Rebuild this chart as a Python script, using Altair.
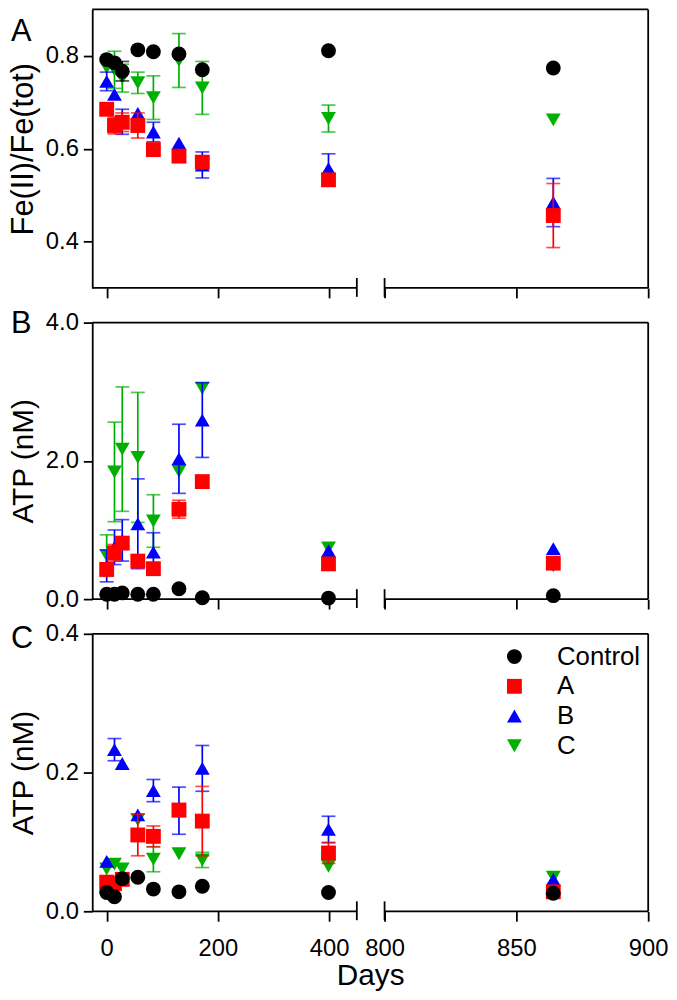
import altair as alt
import pandas as pd

# ---------------- data ----------------
DAYS = [0, 14, 28, 56, 84, 130, 172, 399, 864]
SERIES = ["Control", "A", "B", "C"]
COLORS = ["#000000", "#ff0000", "#0000ff", "#00b000"]
SHAPES = ["circle", "square", "triangle-up", "triangle-down"]
X_TICKS = [0, 200, 400, 800, 850, 900]

# Panel A: Fe(II)/Fe(tot)
FE_CONTROL = [0.792, 0.785, 0.767, 0.813, 0.809, 0.804, 0.770, 0.811, 0.774]
FE_CONTROL_ERR = [None, None, 0.021, None, None, None, None, None, None]
FE_A = [0.685, 0.650, 0.657, 0.650, 0.598, 0.584, 0.571, 0.533, 0.456]
FE_A_ERR = [None, 0.018, 0.020, 0.027, None, None, None, None, 0.069]
FE_B = [0.745, 0.717, 0.658, 0.676, 0.636, 0.612, 0.565, 0.557, 0.484]
FE_B_ERR = [0.020, None, 0.027, None, 0.021, None, 0.028, 0.032, 0.052]
FE_C = [0.775, 0.770, 0.752, 0.742, 0.710, 0.790, 0.731, 0.665, 0.662]
FE_C_ERR = [None, 0.040, 0.030, 0.023, 0.047, 0.058, 0.057, 0.029, None]

# Panel B: ATP (nM)
ATP1_CONTROL = [0.07, 0.07, 0.09, 0.07, 0.07, 0.15, 0.02, 0.015, 0.05]
ATP1_CONTROL_ERR = [None] * 9
ATP1_A = [0.43, 0.67, 0.81, 0.55, 0.44, 1.30, 1.70, 0.51, 0.52]
ATP1_A_ERR = [None, 0.12, None, None, None, 0.13, None, None, None]
ATP1_B = [0.48, 0.75, 0.85, 1.09, 0.68, 2.03, 2.59, 0.70, 0.73]
ATP1_B_ERR = [0.23, 0.25, 0.30, 0.65, 0.28, 0.50, 0.54, None, None]
ATP1_C = [0.63, 1.84, 2.17, 2.05, 1.13, 1.85, 3.05, 0.74, 0.48]
ATP1_C_ERR = [0.30, 0.72, 0.90, 0.94, 0.38, None, None, None, None]

# Panel C: ATP (nM)
ATP2_CONTROL = [0.027, 0.021, 0.047, 0.049, 0.032, 0.028, 0.036, 0.027, 0.026]
ATP2_CONTROL_ERR = [None] * 9
ATP2_A = [0.042, 0.040, 0.046, 0.110, 0.108, 0.146, 0.130, 0.084, 0.028]
ATP2_A_ERR = [None, None, None, 0.030, 0.015, None, 0.050, 0.015, None]
ATP2_B = [0.072, 0.233, 0.213, 0.139, 0.174, 0.145, 0.206, 0.118, 0.046]
ATP2_B_ERR = [None, 0.016, None, None, 0.016, 0.034, 0.033, 0.019, None]
ATP2_C = [0.061, 0.068, 0.061, 0.132, 0.075, 0.083, 0.074, 0.065, 0.049]
ATP2_C_ERR = [None, None, None, None, 0.018, None, 0.011, None, None]

# ---------------- layout ----------------
W = 561
WL = 267
GAP = 28
XDOM = [-26, 450, 800, 900]
XRANGE = [0, WL, WL + GAP, W]
FONT = "Liberation Sans"
LW = 1.8


def make_df(vals, errs):
    rows = []
    for s in SERIES:
        for d, v, e in zip(DAYS, vals[s], errs[s]):
            rows.append({
                "day": d, "series": s, "value": v,
                "lo": (v - e) if e is not None else None,
                "hi": (v + e) if e is not None else None,
            })
    return pd.DataFrame(rows)


def panel(df, ydom, yvals, ytitle, ytsize, H, letter, letter_y, bottom, legend_on):
    xscale = alt.Scale(domain=XDOM, range=XRANGE, nice=False, zero=False)
    yscale = alt.Scale(domain=ydom, nice=False, zero=False)
    xaxis_kw = dict(values=X_TICKS, domain=False, grid=False, tickSize=10,
                    tickWidth=LW, tickColor="black", labels=bottom,
                    labelFontSize=24, labelPadding=16, labelFlush=False,
                    labelColor="black", format="d", titleFontSize=30,
                    titleFontWeight="normal", titlePadding=0, titleColor="black")
    if bottom:
        xaxis = alt.Axis(title="Days", **xaxis_kw)
    else:
        xaxis = alt.Axis(title=None, **xaxis_kw)
    yaxis = alt.Axis(values=yvals, format=".1f", grid=False, domainColor="black",
                     domainWidth=LW, tickSize=9, tickWidth=LW, tickColor="black",
                     labelFontSize=24, labelPadding=5, labelColor="black",
                     title=ytitle, titleFontSize=ytsize, titleFontWeight="normal",
                     titleColor="black", titleX=-69, titleY=H / 2,
                     titleBaseline="middle", titleAlign="center")
    one = pd.DataFrame({"k": [0]})
    base = alt.Chart(one).mark_rule(color="black", strokeWidth=LW)
    layers = [
        base.encode(x=alt.value(0), x2=alt.value(W), y=alt.value(0)),
        base.encode(x=alt.value(W), y=alt.value(0), y2=alt.value(H)),
        base.encode(x=alt.value(0), x2=alt.value(WL), y=alt.value(H)),
        base.encode(x=alt.value(WL + GAP), x2=alt.value(W), y=alt.value(H)),
        base.encode(x=alt.value(WL), y=alt.value(H - 10), y2=alt.value(H + 9)),
        base.encode(x=alt.value(WL + GAP), y=alt.value(H - 10), y2=alt.value(H + 9)),
    ]
    if legend_on:
        leg = alt.Legend(orient="none", legendX=413, legendY=10, title=None,
                         labelFontSize=26, labelFont=FONT, labelColor="black",
                         symbolSize=225, labelOffset=30, rowPadding=4,
                         symbolStrokeWidth=0, padding=0)
    else:
        leg = None
    X = alt.X("day:Q", scale=xscale, axis=xaxis)
    for s in ["C", "B", "A", "Control"]:
        col = COLORS[SERIES.index(s)]
        sub = df[df.series == s]
        err = sub.dropna(subset=["lo"])
        if len(err):
            layers.append(
                alt.Chart(err).mark_rule(color=col, strokeWidth=1.7).encode(
                    x=X, y=alt.Y("lo:Q", scale=yscale, axis=yaxis), y2="hi:Q"))
            layers.append(
                alt.Chart(err).transform_fold(["lo", "hi"], as_=["end", "v"])
                .mark_tick(orient="horizontal", color=col, size=14, thickness=1.7)
                .encode(x=X, y=alt.Y("v:Q", scale=yscale, axis=yaxis)))
        layers.append(
            alt.Chart(sub).mark_point(filled=True, size=225, opacity=1, strokeWidth=0)
            .encode(
                x=X, y=alt.Y("value:Q", scale=yscale, axis=yaxis),
                color=alt.Color("series:N", scale=alt.Scale(domain=SERIES, range=COLORS), legend=leg),
                shape=alt.Shape("series:N", scale=alt.Scale(domain=SERIES, range=SHAPES), legend=leg),
            ))
    layers.append(
        alt.Chart(pd.DataFrame({"t": [letter]})).mark_text(
            align="left", baseline="alphabetic", fontSize=31, color="black")
        .encode(x=alt.value(-82), y=alt.value(letter_y), text="t:N"))
    return alt.layer(*layers).properties(width=W, height=H)


fe_df = make_df({"Control": FE_CONTROL, "A": FE_A, "B": FE_B, "C": FE_C},
                {"Control": FE_CONTROL_ERR, "A": FE_A_ERR, "B": FE_B_ERR, "C": FE_C_ERR})
atp1_df = make_df({"Control": ATP1_CONTROL, "A": ATP1_A, "B": ATP1_B, "C": ATP1_C},
                  {"Control": ATP1_CONTROL_ERR, "A": ATP1_A_ERR, "B": ATP1_B_ERR, "C": ATP1_C_ERR})
atp2_df = make_df({"Control": ATP2_CONTROL, "A": ATP2_A, "B": ATP2_B, "C": ATP2_C},
                  {"Control": ATP2_CONTROL_ERR, "A": ATP2_A_ERR, "B": ATP2_B_ERR, "C": ATP2_C_ERR})

pA = panel(fe_df, [0.3, 0.9], [0.4, 0.6, 0.8], "Fe(II)/Fe(tot)", 31, 281, "A", 32, False, False)
pB = panel(atp1_df, [0, 4], [0, 2, 4], "ATP (nM)", 30, 279, "B", 10, False, False)
pC = panel(atp2_df, [0, 0.4], [0, 0.2, 0.4], "ATP (nM)", 30, 280, "C", 14, True, True)

chart = alt.vconcat(pA, pB, pC, spacing=35, bounds="flush",
                    padding={"top": -4, "left": -1, "right": 0, "bottom": 0})
chart = (
    chart.resolve_scale(color="independent", shape="independent")
    .configure(font=FONT)
    .configure_view(stroke=None)
)

chart.save("out.html", embed_options={"renderer": "svg", "actions": False})
